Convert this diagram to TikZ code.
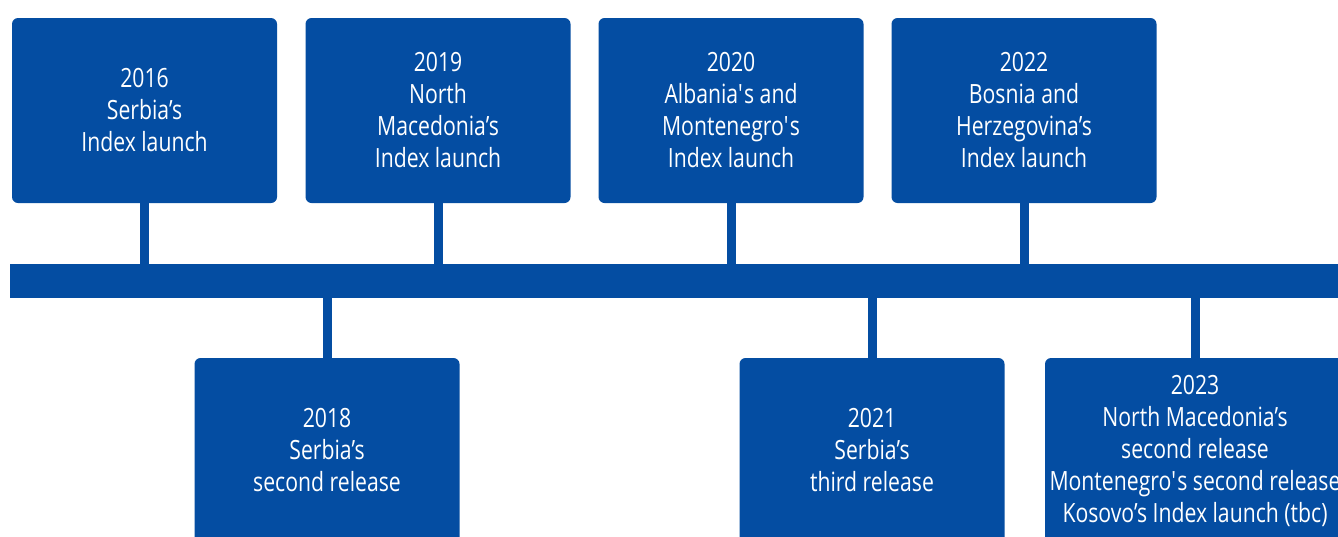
\documentclass[tikz,border=0pt]{standalone}
\usepackage{fontspec}
\setmainfont{Open Sans}[FakeStretch=0.8]
\definecolor{eblue}{RGB}{4,77,162}
\begin{document}
\begin{tikzpicture}[x=1pt,y=-1pt,
  box/.style={fill=eblue, rounded corners=6pt, minimum width=265pt, minimum height=185pt,
    inner sep=0pt, align=center, text=white, font=\fontsize{26.5}{32}\selectfont},
  stem/.style={draw=eblue, line width=9pt},
  barstyle/.style={fill=eblue, inner sep=0pt, minimum width=1335pt, minimum height=34pt, anchor=north west}]
\useasboundingbox (0,0) rectangle (1338,536);
\clip (0,0) rectangle (1338,536);
\node[barstyle] (bar) at (10,264) {};
\node[box] (b1) at (144.5,110.5) {2016\\Serbia’s\\Index launch};
\node[box] (b2) at (438,110.5) {2019\\North\\Macedonia’s\\Index launch};
\node[box] (b3) at (731,110.5) {2020\\Albania\textquotesingle s and\\Montenegro\textquotesingle s\\Index launch};
\node[box] (b4) at (1024,110.5) {2022\\Bosnia and\\Herzegovina’s\\Index launch};
\node[box] (b5) at (327,450.5) {2018\\Serbia’s\\second release};
\node[box] (b6) at (872,450.5) {2021\\Serbia’s\\third release};
\node[box, minimum width=300pt] (b7) at (1195,450.5) {2023\\North Macedonia’s\\second release\\Montenegro\textquotesingle s second release\\Kosovo’s Index launch (tbc)};
\foreach \n in {b1,b2,b3,b4}{
  \draw[stem] ([yshift=1pt]\n.south) -- ([yshift=-1pt]\n.south |- bar.north);
}
\foreach \n in {b5,b6,b7}{
  \draw[stem] ([yshift=-1pt]\n.north) -- ([yshift=1pt]\n.north |- bar.south);
}
\end{tikzpicture}
\end{document}
